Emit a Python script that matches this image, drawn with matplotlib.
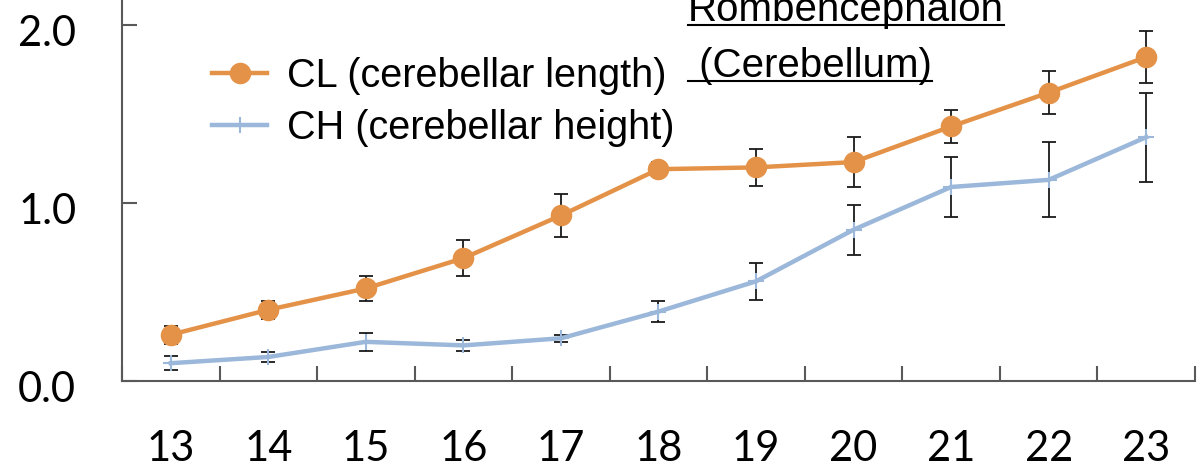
"""Cerebellar length / height by gestational week."""

import matplotlib
import matplotlib.pyplot as plt
from matplotlib.lines import Line2D
from matplotlib.transforms import ScaledTranslation

matplotlib.use("Agg")

# Gestational week and measurements (mean, SD)
weeks = [13, 14, 15, 16, 17, 18, 19, 20, 21, 22, 23]
cl_mean = [0.26, 0.40, 0.52, 0.69, 0.93, 1.19, 1.20, 1.23, 1.43, 1.62, 1.82]
cl_sd = [0.05, 0.05, 0.07, 0.10, 0.12, 0.04, 0.105, 0.14, 0.095, 0.12, 0.145]
ch_mean = [0.10, 0.135, 0.22, 0.20, 0.24, 0.39, 0.56, 0.85, 1.09, 1.13, 1.37]
ch_sd = [0.04, 0.03, 0.05, 0.03, 0.02, 0.06, 0.105, 0.14, 0.17, 0.21, 0.25]
y_ticks = [0.0, 1.0, 2.0]
series_labels = ["CL (cerebellar length)", "CH (cerebellar height)"]
title_lines = ["Rombencephalon", " (Cerebellum)"]

W, H = 1203, 471
ORANGE = "#E49248"
BLUE = "#9BB7DA"
AXIS = "#595959"
LABEL_FONT = "Liberation Sans"
TICK_FONT = "Lato"

fig = plt.figure(figsize=(W / 100, H / 100), dpi=100)
ax = fig.add_axes([122 / W, 1 - 381 / H, (1195 - 122) / W, 381 / H])

# error bars first, lines on top
ax.errorbar(weeks, cl_mean, yerr=cl_sd, fmt="none", ecolor="#1a1a1a",
            elinewidth=1.3, capsize=4.8, capthick=1.3, zorder=2)
ax.errorbar(weeks, ch_mean, yerr=ch_sd, fmt="none", ecolor="#1a1a1a",
            elinewidth=1.3, capsize=4.8, capthick=1.3, zorder=2)
ax.plot(weeks, cl_mean, color=ORANGE, linewidth=3.2, marker="o",
        markersize=14.5, label=series_labels[0], zorder=3)
ax.plot(weeks, ch_mean, color=BLUE, linewidth=3.2, marker="+",
        markersize=12, markeredgewidth=1.5, label=series_labels[1], zorder=3)

ax.set_xlim(weeks[0] - 0.5, weeks[-1] + 0.5)
ax.set_ylim(0, 381 / 178)

for side in ("top", "right"):
    ax.spines[side].set_visible(False)
for side in ("left", "bottom"):
    ax.spines[side].set_color(AXIS)
    ax.spines[side].set_linewidth(1.5)

# tick marks between categories, labels at centres
ax.set_xticks([w - 0.5 for w in weeks] + [weeks[-1] + 0.5])
ax.set_xticklabels([])
ax.set_xticks(weeks, minor=True)
ax.set_xticklabels([str(w) for w in weeks], minor=True,
                   fontsize=30, family=TICK_FONT)
ax.tick_params(axis="x", which="major", direction="in", length=10.5,
               width=1.5, color=AXIS)
ax.tick_params(axis="x", which="minor", length=0, pad=35)

ax.set_yticks(y_ticks)
ax.set_yticklabels([f"{v:.1f}" for v in y_ticks], fontsize=30, family=TICK_FONT)
ax.tick_params(axis="y", direction="in", length=10.5, width=1.5,
               color=AXIS, pad=33)
shift = ScaledTranslation(0, -6 / 100, fig.dpi_scale_trans)
for lab in ax.get_yticklabels():
    lab.set_transform(lab.get_transform() + shift)

leg = ax.legend(loc="upper left", bbox_to_anchor=(212 / W, 1 - 57 / H),
                bbox_transform=fig.transFigure, frameon=False,
                borderpad=0, borderaxespad=0, handlelength=1.4,
                handletextpad=0.5, labelspacing=0.36,
                prop={"family": LABEL_FONT, "size": 28.5})

# underlined title, two lines
baselines = [21, 77]
texts = []
for line, yb in zip(title_lines, baselines):
    t = fig.text(688 / W, 1 - yb / H, line, ha="left", va="baseline",
                 fontsize=29, family=LABEL_FONT)
    texts.append((t, yb))

fig.canvas.draw()
for t, yb in texts:
    bb = t.get_window_extent()
    y_line = 1 - (yb + 4) / H
    fig.add_artist(Line2D([bb.x0 / W, bb.x1 / W], [y_line, y_line],
                          transform=fig.transFigure, color="black",
                          linewidth=1.5))

fig.savefig("out.png", dpi=100)
plt.close(fig)
